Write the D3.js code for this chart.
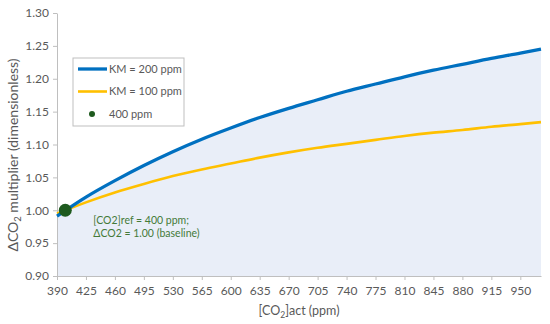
<!DOCTYPE html>
<html>
<head>
<meta charset="utf-8">
<script src="https://cdn.jsdelivr.net/npm/d3@7"></script>
<style>
  body { margin: 0; background: #fff; }
  text { font-family: Lato, "Liberation Sans", sans-serif; }
</style>
</head>
<body>
<svg class="chart"></svg>
<script>
// values
var co2 = [390, 425, 460, 495, 530, 565, 600, 635, 670, 705, 740, 775, 810, 845, 880, 915, 950, 975];
var km200 = [0.991, 1.020, 1.045, 1.068, 1.089, 1.108, 1.125, 1.141, 1.155, 1.168, 1.181, 1.192, 1.203, 1.213, 1.222, 1.231, 1.239, 1.245];
var km100 = [0.995, 1.012, 1.027, 1.040, 1.052, 1.062, 1.071, 1.080, 1.088, 1.095, 1.101, 1.107, 1.113, 1.118, 1.122, 1.127, 1.131, 1.134];
var xTicks = d3.range(390, 951, 35);
var yTicks = [0.90, 0.95, 1.00, 1.05, 1.10, 1.15, 1.20, 1.25, 1.30];
var refPoint = {x: 400, y: 1.00};
var legendNames = ["KM = 200 ppm", "KM = 100 ppm", "400 ppm"];

var width = 550, height = 324;
var margin = {top: 13, right: 9, bottom: 48, left: 57};

var x = d3.scaleLinear()
    .domain([390, 975])
    .range([margin.left, width - margin.right]);

var y = d3.scaleLinear()
    .domain([0.90, 1.30])
    .range([height - margin.bottom, margin.top]);

var chart = d3.select(".chart")
    .attr("width", width)
    .attr("height", height);

var blue = "#0070c0", yellow = "#ffc000", green = "#1e5a1e";

// shaded area under the KM = 200 curve
var area = d3.area()
    .x((d, i) => x(co2[i]))
    .y0(y(0.90))
    .y1(d => y(d))
    .curve(d3.curveMonotoneX);

chart.append("path")
    .datum(km200)
    .attr("d", area)
    .attr("fill", "#e9eef8");

// axes
var xAxis = g => g
    .attr("transform", "translate(0," + y(0.90) + ")")
    .call(d3.axisBottom(x).tickValues(xTicks).tickSize(4).tickSizeOuter(0).tickPadding(6))
    .call(g => g.selectAll("line,.domain").attr("stroke", "#bfbfbf"))
    .call(g => g.selectAll("text").attr("fill", "#595959").style("font-size", "12px"));

var yAxis = g => g
    .attr("transform", "translate(" + margin.left + ",0)")
    .call(d3.axisLeft(y).tickValues(yTicks).tickFormat(d3.format(".2f")).tickSize(4).tickSizeOuter(0).tickPadding(4))
    .call(g => g.selectAll("line,.domain").attr("stroke", "#bfbfbf"))
    .call(g => g.selectAll("text").attr("fill", "#595959").style("font-size", "12px"));

chart.append("g").call(xAxis);
chart.append("g").call(yAxis);

// lines
var line = d3.line()
    .x((d, i) => x(co2[i]))
    .y(d => y(d))
    .curve(d3.curveMonotoneX);

chart.append("path")
    .datum(km100)
    .attr("d", line)
    .attr("fill", "none")
    .attr("stroke", yellow)
    .attr("stroke-width", 2.6);

chart.append("path")
    .datum(km200)
    .attr("d", line)
    .attr("fill", "none")
    .attr("stroke", blue)
    .attr("stroke-width", 3.3);

chart.append("circle")
    .attr("cx", x(refPoint.x))
    .attr("cy", y(refPoint.y))
    .attr("r", 6.5)
    .attr("fill", green);

// annotation
var noteX = x(400) + 28;
var note = chart.append("text")
    .attr("y", y(1.00) + 14)
    .attr("fill", "#447a38")
    .style("font-size", "10.5px");
note.append("tspan").attr("x", noteX).text("[CO2]ref = 400 ppm;");
note.append("tspan").attr("x", noteX).attr("dy", 13).text("\u0394CO2 = 1.00 (baseline)");

// axis titles
var xt = chart.append("text")
    .attr("x", (margin.left + width - margin.right) / 2)
    .attr("y", 315)
    .attr("text-anchor", "middle")
    .attr("fill", "#595959")
    .style("font-size", "12.5px");
xt.append("tspan").text("[CO");
xt.append("tspan").attr("dy", 3).style("font-size", "8.5px").text("2");
xt.append("tspan").attr("dy", -3).text("]act (ppm)");

var yt = chart.append("text")
    .attr("transform", "translate(18,155) rotate(-90)")
    .attr("text-anchor", "middle")
    .attr("fill", "#595959")
    .style("font-size", "14px");
yt.append("tspan").text("\u0394CO");
yt.append("tspan").attr("dy", 3).style("font-size", "9.5px").text("2");
yt.append("tspan").attr("dy", -3).text(" multiplier (dimensionless)");

// legend
var legend = chart.append("g").attr("transform", "translate(73,58)");
legend.append("rect")
    .attr("width", 111).attr("height", 68)
    .attr("fill", "#fff")
    .attr("stroke", "#bfbfbf");

var items = legend.selectAll("g.item")
    .data(legendNames)
  .enter().append("g")
    .attr("class", "item")
    .attr("transform", (d, i) => "translate(0," + (11 + i * 22.5) + ")");

items.filter((d, i) => i < 2).append("line")
    .attr("x1", 5).attr("x2", 34)
    .attr("stroke", (d, i) => i == 0 ? blue : yellow)
    .attr("stroke-width", (d, i) => i == 0 ? 3.3 : 2.6);

items.filter((d, i) => i == 2).append("circle")
    .attr("cx", 19).attr("cy", 0).attr("r", 3)
    .attr("fill", green);

items.append("text")
    .attr("x", 36)
    .attr("dy", "0.35em")
    .attr("fill", "#595959")
    .style("font-size", "11px")
    .text(d => d);
</script>
</body>
</html>
